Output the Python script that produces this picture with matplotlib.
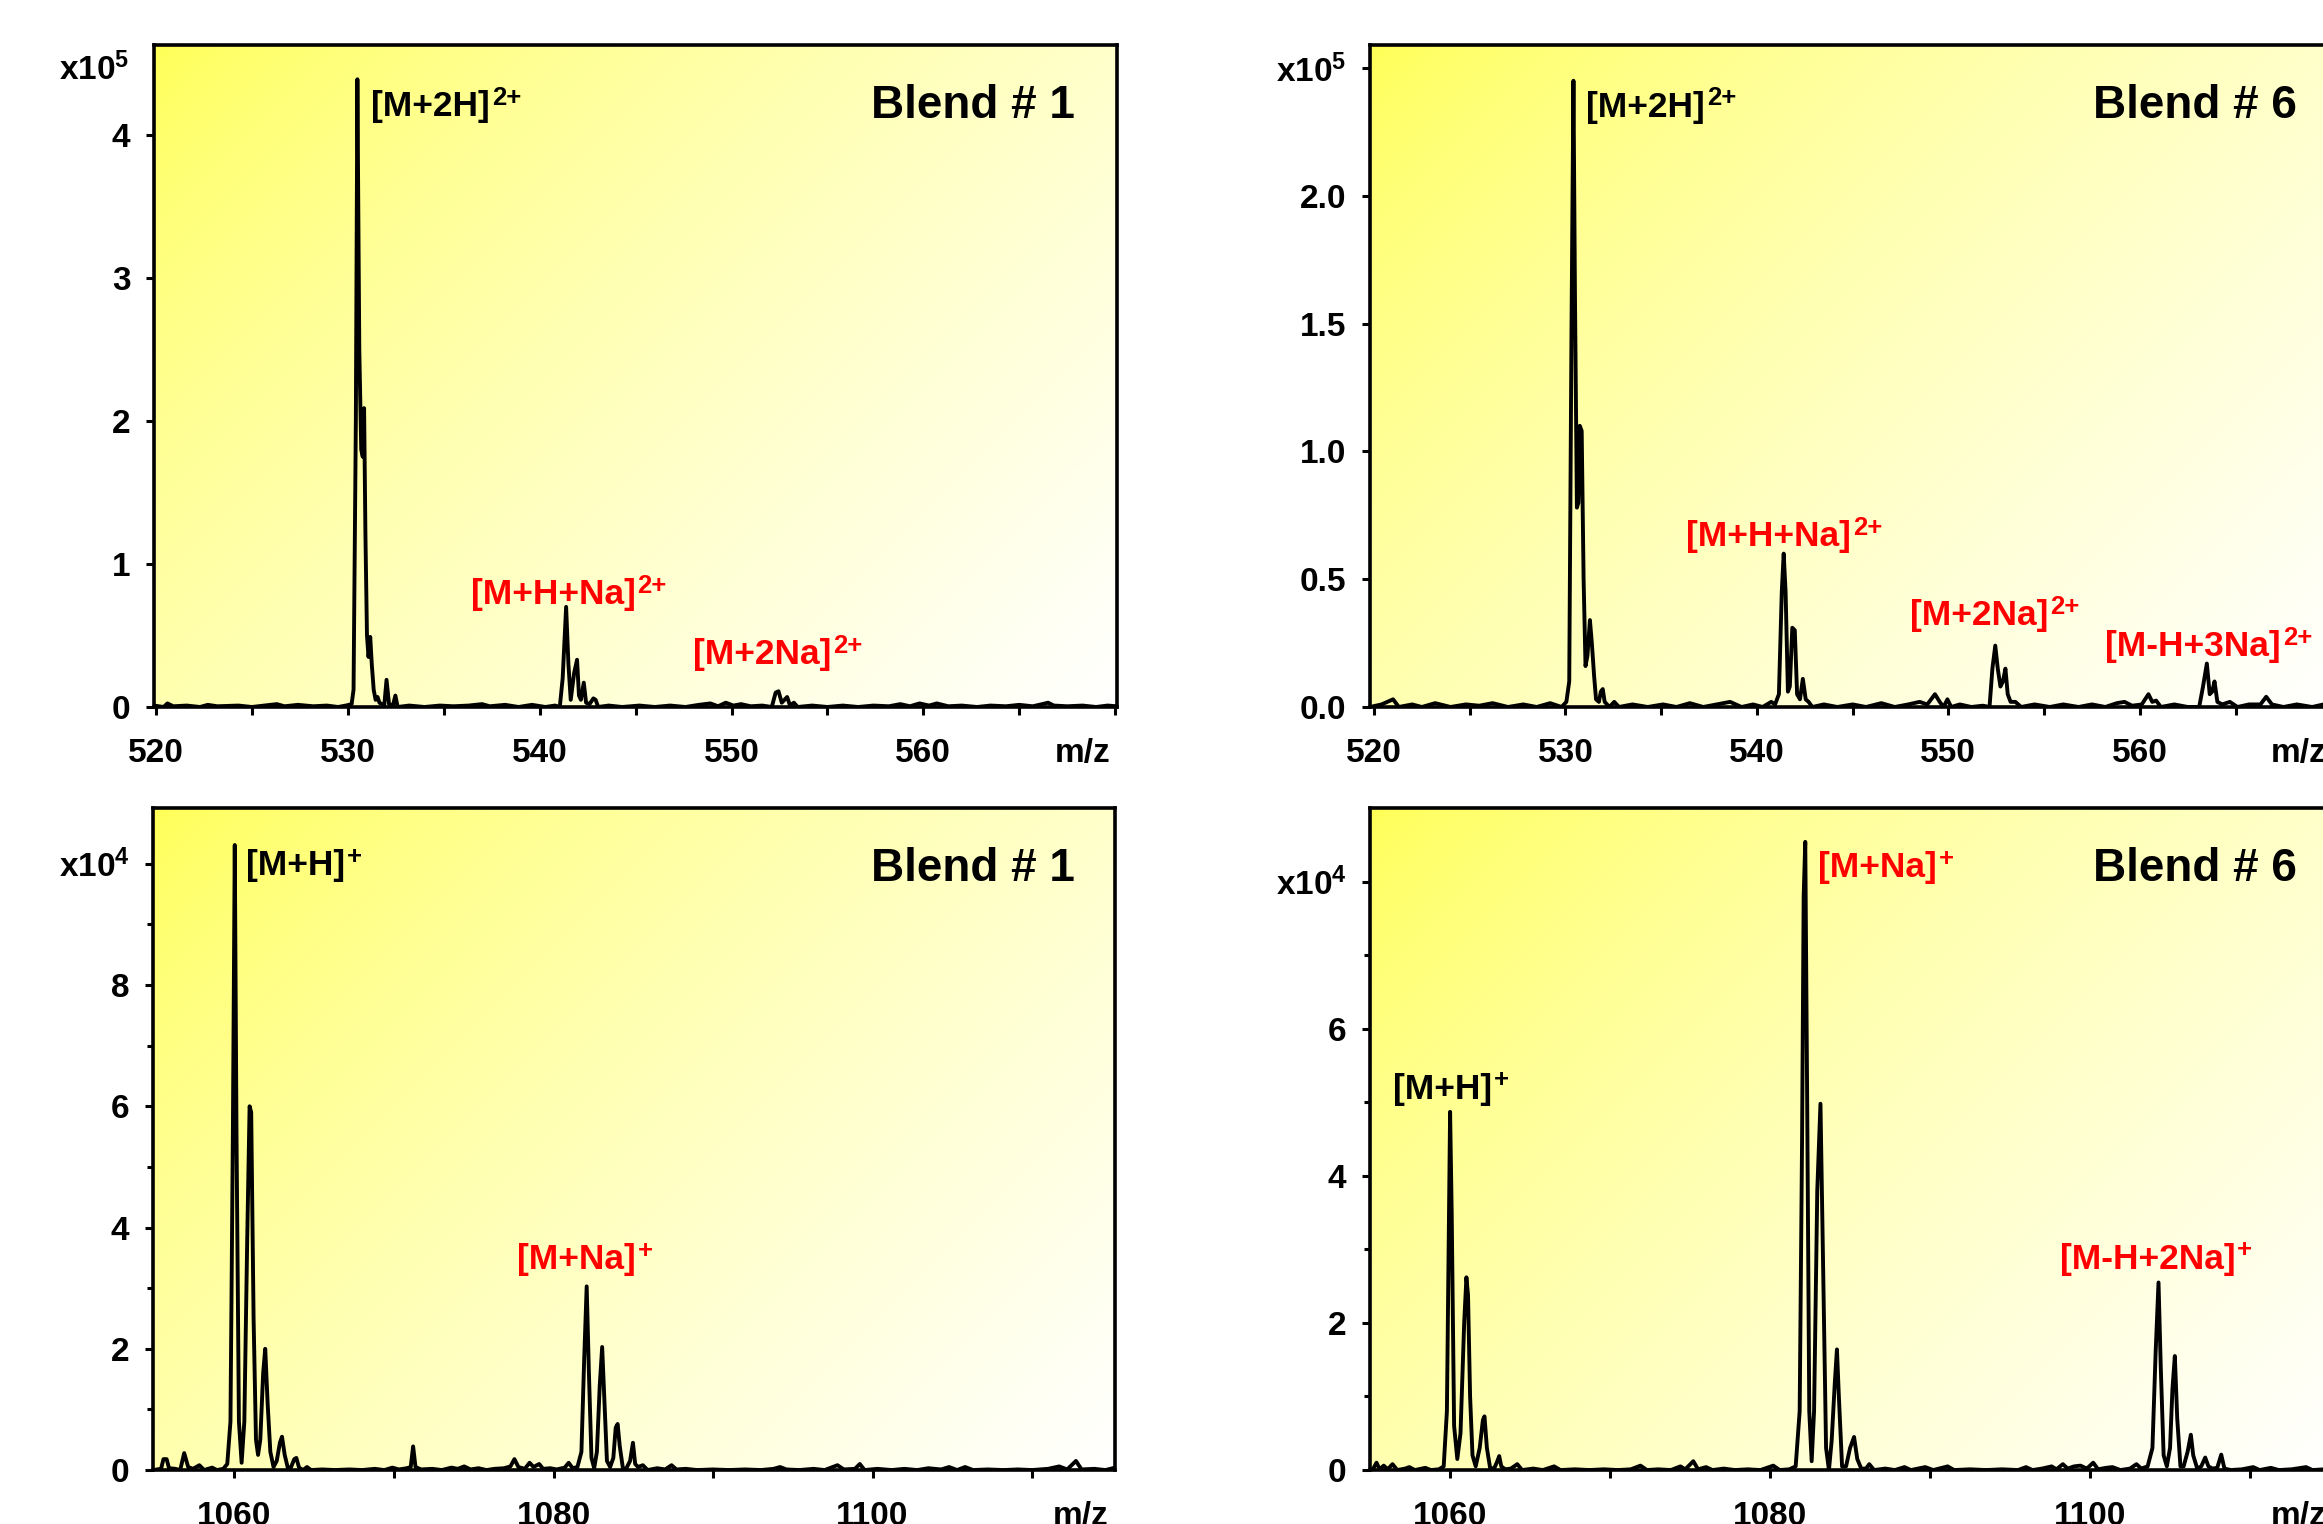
import numpy as np
import matplotlib
matplotlib.use("Agg")
import matplotlib.pyplot as plt
import matplotlib.transforms as mtransforms

plt.rcParams['font.family'] = ['Liberation Sans', 'DejaVu Sans']
plt.rcParams['font.weight'] = 'bold'
plt.rcParams['mathtext.fontset'] = 'custom'
plt.rcParams['mathtext.rm'] = 'Liberation Sans:bold'
plt.rcParams['mathtext.it'] = 'Liberation Sans:bold'
plt.rcParams['mathtext.bf'] = 'Liberation Sans:bold'
plt.rcParams['mathtext.default'] = 'rm'

# ---- spectra: (m/z, intensity) ----
# Blend 1, doubly charged region (x1e5)
blend1_z2 = [
    (519.9, 0.01), (520.4, 0.0), (520.6, 0.025), (520.9, 0.005), (521.6, 0.01), (522.3, 0.0),
    (522.7, 0.015), (523.2, 0.005), (524.3, 0.01), (525.0, 0.0), (526.3, 0.02), (526.7, 0.005),
    (527.4, 0.015), (528.2, 0.005), (528.9, 0.01), (529.5, 0.0), (529.9, 0.01),
    (530.2, 0.02), (530.3, 0.12), (530.42, 2.0), (530.5, 4.39), (530.6, 2.5), (530.7, 1.8),
    (530.78, 1.75), (530.85, 2.09), (530.92, 1.2), (531.0, 0.5), (531.08, 0.35), (531.17, 0.49),
    (531.25, 0.30), (531.35, 0.12), (531.45, 0.05), (531.55, 0.07), (531.65, 0.03), (531.9, 0.01),
    (532.02, 0.19), (532.15, 0.02), (532.35, 0.01), (532.48, 0.08), (532.6, 0.0),
    (533.2, 0.01), (534.0, 0.0), (534.8, 0.01), (535.5, 0.005), (536.3, 0.01), (537.0, 0.02),
    (537.4, 0.005), (538.2, 0.015), (538.9, 0.0), (539.6, 0.015), (540.3, 0.0), (540.8, 0.01),
    (541.05, 0.0), (541.2, 0.2), (541.38, 0.70), (541.5, 0.3), (541.62, 0.05), (541.8, 0.24),
    (541.95, 0.33), (542.05, 0.08), (542.15, 0.05), (542.3, 0.17), (542.42, 0.03), (542.6, 0.02),
    (542.8, 0.06), (542.92, 0.05), (543.05, 0.0),
    (543.6, 0.01), (544.3, 0.0), (545.2, 0.01), (546.0, 0.0), (546.8, 0.01), (547.6, 0.0),
    (548.3, 0.015), (548.9, 0.025), (549.3, 0.005), (549.7, 0.03), (550.1, 0.01), (550.5, 0.02),
    (551.0, 0.005), (551.6, 0.01),
    (552.1, 0.0), (552.3, 0.10), (552.45, 0.11), (552.62, 0.03), (552.9, 0.07), (553.05, 0.01),
    (553.25, 0.03), (553.45, 0.0),
    (554.2, 0.01), (555.0, 0.0), (555.8, 0.01), (556.6, 0.0), (557.4, 0.01), (558.2, 0.005),
    (558.8, 0.02), (559.3, 0.005), (559.8, 0.025), (560.3, 0.01), (560.7, 0.025), (561.3, 0.005),
    (562.0, 0.01), (562.8, 0.0), (563.5, 0.01), (564.3, 0.005), (565.0, 0.015), (565.7, 0.005),
    (566.2, 0.02), (566.5, 0.03), (566.8, 0.01), (567.5, 0.005), (568.3, 0.01), (569.0, 0.0),
    (569.6, 0.01), (570.1, 0.005),
]

# Blend 6, doubly charged region (x1e5)
blend6_z2 = [
    (519.8, 0.0), (520.4, 0.01), (521.0, 0.03), (521.3, 0.0), (522.0, 0.01), (522.5, 0.0),
    (523.2, 0.015), (524.0, 0.0), (524.8, 0.01), (525.5, 0.005), (526.2, 0.015), (527.0, 0.0),
    (527.8, 0.01), (528.5, 0.0), (529.2, 0.015), (529.8, 0.0),
    (530.05, 0.02), (530.2, 0.1), (530.32, 1.5), (530.42, 2.45), (530.5, 1.6), (530.6, 0.78),
    (530.68, 0.80), (530.75, 1.10), (530.85, 1.08), (530.95, 0.5), (531.05, 0.16), (531.15, 0.20),
    (531.28, 0.34), (531.38, 0.25), (531.5, 0.12), (531.6, 0.03), (531.75, 0.02), (531.85, 0.06),
    (531.95, 0.07), (532.05, 0.02), (532.3, 0.0), (532.55, 0.02), (532.8, 0.0),
    (533.5, 0.01), (534.3, 0.0), (535.1, 0.01), (535.8, 0.0), (536.5, 0.015), (537.2, 0.0),
    (537.9, 0.01), (538.6, 0.02), (539.2, 0.0), (539.8, 0.01), (540.3, 0.0), (540.75, 0.02),
    (540.95, 0.01),
    (541.15, 0.05), (541.3, 0.45), (541.4, 0.60), (541.5, 0.45), (541.62, 0.06), (541.72, 0.08),
    (541.85, 0.31), (541.98, 0.30), (542.1, 0.05), (542.25, 0.03), (542.4, 0.11), (542.55, 0.03),
    (542.7, 0.02), (542.9, 0.0),
    (543.5, 0.01), (544.2, 0.0), (545.0, 0.01), (545.7, 0.0), (546.5, 0.015), (547.2, 0.0),
    (547.9, 0.01), (548.5, 0.02), (548.9, 0.01), (549.3, 0.05), (549.55, 0.02), (549.75, 0.0),
    (549.95, 0.03), (550.15, 0.0), (550.6, 0.01), (551.2, 0.0), (551.8, 0.005),
    (552.15, 0.0), (552.3, 0.15), (552.45, 0.24), (552.58, 0.15), (552.72, 0.08), (552.85, 0.10),
    (552.98, 0.15), (553.1, 0.05), (553.25, 0.02), (553.5, 0.02), (553.8, 0.0),
    (554.5, 0.01), (555.3, 0.0), (556.0, 0.01), (556.8, 0.0), (557.5, 0.01), (558.2, 0.0),
    (558.8, 0.015), (559.2, 0.02), (559.6, 0.005), (560.1, 0.01), (560.45, 0.05), (560.65, 0.02),
    (560.85, 0.025), (561.1, 0.0), (561.8, 0.01), (562.5, 0.0), (563.1, 0.0), (563.3, 0.08),
    (563.5, 0.17), (563.65, 0.05), (563.78, 0.06), (563.9, 0.10), (564.05, 0.02), (564.3, 0.01),
    (564.7, 0.02), (565.1, 0.0), (565.7, 0.01), (566.3, 0.01), (566.6, 0.04), (566.9, 0.01),
    (567.5, 0.0), (568.2, 0.01), (569.0, 0.0), (569.6, 0.01), (570.1, 0.0),
]

# Blend 1, singly charged region (x1e4)
blend1_z1 = [
    (1054.9, 0.0), (1055.4, 0.02), (1055.55, 0.18), (1055.75, 0.18), (1055.9, 0.03), (1056.3, 0.02),
    (1056.6, 0.0), (1056.85, 0.28), (1057.1, 0.05), (1057.4, 0.02), (1057.8, 0.08), (1058.1, 0.0),
    (1058.6, 0.04), (1058.9, 0.0), (1059.3, 0.02),
    (1059.55, 0.1), (1059.75, 0.8), (1059.9, 5.5), (1060.02, 10.31), (1060.13, 5.5), (1060.28, 0.8),
    (1060.45, 0.12), (1060.62, 0.8), (1060.8, 3.8), (1060.95, 6.0), (1061.05, 5.9), (1061.2, 2.5),
    (1061.35, 0.5), (1061.48, 0.25), (1061.62, 0.5), (1061.8, 1.6), (1061.93, 2.0), (1062.08, 1.1),
    (1062.25, 0.3), (1062.45, 0.05), (1062.65, 0.15), (1062.85, 0.45), (1062.98, 0.55), (1063.15, 0.25),
    (1063.35, 0.03), (1063.55, 0.05), (1063.75, 0.18), (1063.88, 0.2), (1064.05, 0.04), (1064.3, 0.0),
    (1064.55, 0.05), (1064.8, 0.0),
    (1065.5, 0.01), (1066.3, 0.0), (1067.2, 0.01), (1068.0, 0.0), (1068.8, 0.02), (1069.4, 0.0),
    (1069.9, 0.04), (1070.3, 0.01), (1070.8, 0.03), (1071.05, 0.05), (1071.2, 0.39), (1071.35, 0.05),
    (1071.7, 0.01), (1072.4, 0.02), (1073.0, 0.0), (1073.6, 0.04), (1074.0, 0.02), (1074.4, 0.06),
    (1074.8, 0.01), (1075.3, 0.03), (1075.8, 0.0), (1076.3, 0.02), (1076.9, 0.03), (1077.3, 0.06),
    (1077.55, 0.18), (1077.8, 0.05), (1078.2, 0.02), (1078.5, 0.12), (1078.75, 0.05), (1079.1, 0.1),
    (1079.35, 0.02), (1079.8, 0.03), (1080.2, 0.01), (1080.7, 0.04), (1080.95, 0.12), (1081.2, 0.03),
    (1081.5, 0.05),
    (1081.75, 0.3), (1081.92, 1.8), (1082.08, 3.03), (1082.22, 1.6), (1082.38, 0.2), (1082.55, 0.03),
    (1082.72, 0.3), (1082.9, 1.4), (1083.05, 2.03), (1083.18, 1.2), (1083.35, 0.15), (1083.55, 0.05),
    (1083.75, 0.2), (1083.9, 0.7), (1084.02, 0.76), (1084.15, 0.4), (1084.35, 0.03), (1084.55, 0.02),
    (1084.8, 0.15), (1084.98, 0.45), (1085.12, 0.1), (1085.3, 0.05), (1085.6, 0.08), (1085.9, 0.0),
    (1086.5, 0.03), (1087.0, 0.01), (1087.4, 0.08), (1087.7, 0.01), (1088.3, 0.02), (1089.0, 0.0),
    (1090.0, 0.01), (1091.0, 0.0), (1092.0, 0.01), (1093.0, 0.0), (1093.8, 0.02), (1094.2, 0.05),
    (1094.6, 0.01), (1095.4, 0.0), (1096.3, 0.02), (1097.0, 0.0), (1097.8, 0.08), (1098.2, 0.01),
    (1098.9, 0.02), (1099.2, 0.1), (1099.5, 0.0), (1100.3, 0.02), (1101.2, 0.0), (1102.0, 0.02),
    (1102.8, 0.0), (1103.5, 0.03), (1104.3, 0.01), (1104.8, 0.05), (1105.3, 0.0), (1105.8, 0.05),
    (1106.3, 0.0), (1107.2, 0.01), (1108.2, 0.0), (1109.1, 0.01), (1110.0, 0.0), (1111.0, 0.02),
    (1111.7, 0.06), (1112.2, 0.01), (1112.75, 0.15), (1113.1, 0.01), (1113.9, 0.02), (1114.6, 0.0),
    (1115.2, 0.04),
]

# Blend 6, singly charged region (x1e4)
blend6_z1 = [
    (1054.9, 0.0), (1055.2, 0.02), (1055.4, 0.1), (1055.6, 0.01), (1055.85, 0.06), (1056.1, 0.01),
    (1056.4, 0.08), (1056.7, 0.0), (1057.2, 0.02), (1057.45, 0.04), (1057.8, 0.0), (1058.45, 0.03),
    (1058.8, 0.0), (1059.3, 0.01),
    (1059.6, 0.05), (1059.8, 0.8), (1059.93, 3.5), (1060.0, 4.87), (1060.1, 3.5), (1060.25, 0.6),
    (1060.45, 0.15), (1060.65, 0.5), (1060.88, 2.0), (1061.02, 2.62), (1061.12, 2.38), (1061.25, 1.0),
    (1061.4, 0.2), (1061.6, 0.05), (1061.85, 0.3), (1062.05, 0.68), (1062.15, 0.73), (1062.3, 0.3),
    (1062.5, 0.03), (1062.75, 0.02), (1062.95, 0.12), (1063.07, 0.19), (1063.2, 0.05), (1063.45, 0.01),
    (1063.8, 0.02), (1064.2, 0.08), (1064.5, 0.0),
    (1065.2, 0.02), (1065.8, 0.0), (1066.5, 0.05), (1066.9, 0.0), (1067.8, 0.01), (1068.7, 0.0),
    (1069.6, 0.01), (1070.5, 0.0), (1071.3, 0.01), (1071.9, 0.06), (1072.3, 0.0), (1073.0, 0.01),
    (1073.8, 0.0), (1074.4, 0.05), (1074.7, 0.01), (1075.2, 0.12), (1075.5, 0.01), (1076.0, 0.04),
    (1076.4, 0.0), (1077.1, 0.02), (1077.8, 0.0), (1078.6, 0.01), (1079.4, 0.0), (1080.2, 0.06),
    (1080.6, 0.0), (1081.2, 0.01), (1081.6, 0.05),
    (1081.85, 0.8), (1082.0, 4.5), (1082.1, 7.8), (1082.2, 8.54), (1082.32, 5.0), (1082.45, 0.8),
    (1082.6, 0.12), (1082.75, 0.8), (1082.95, 3.8), (1083.15, 4.98), (1083.3, 3.0), (1083.5, 0.3),
    (1083.68, 0.0), (1083.85, 0.4), (1084.05, 1.2), (1084.18, 1.64), (1084.3, 1.0), (1084.5, 0.05),
    (1084.75, 0.05), (1085.0, 0.3), (1085.25, 0.45), (1085.45, 0.15), (1085.7, 0.02), (1086.0, 0.02),
    (1086.2, 0.08), (1086.5, 0.0),
    (1087.2, 0.02), (1087.8, 0.0), (1088.4, 0.04), (1088.8, 0.0), (1089.7, 0.04), (1090.2, 0.0),
    (1091.1, 0.05), (1091.5, 0.0), (1092.5, 0.01), (1093.5, 0.0), (1094.5, 0.01), (1095.5, 0.0),
    (1096.0, 0.04), (1096.4, 0.0), (1097.0, 0.02), (1097.6, 0.05), (1097.9, 0.01), (1098.3, 0.08),
    (1098.6, 0.02), (1099.0, 0.05), (1099.4, 0.06), (1099.8, 0.02), (1100.2, 0.1), (1100.5, 0.01),
    (1101.0, 0.03), (1101.4, 0.04), (1101.9, 0.0), (1102.5, 0.02), (1102.9, 0.08), (1103.2, 0.02),
    (1103.6, 0.05),
    (1103.9, 0.3), (1104.1, 1.6), (1104.28, 2.55), (1104.42, 1.4), (1104.6, 0.2), (1104.8, 0.05),
    (1105.0, 0.3), (1105.15, 1.1), (1105.3, 1.55), (1105.45, 0.7), (1105.65, 0.05), (1105.85, 0.05),
    (1106.1, 0.25), (1106.3, 0.48), (1106.45, 0.2), (1106.7, 0.02), (1106.95, 0.05), (1107.2, 0.17),
    (1107.4, 0.05), (1107.65, 0.02), (1107.95, 0.03), (1108.2, 0.21), (1108.4, 0.02), (1108.8, 0.0),
    (1109.5, 0.01), (1110.2, 0.04), (1110.6, 0.0), (1111.3, 0.03), (1111.8, 0.0), (1112.6, 0.01),
    (1113.5, 0.04), (1113.9, 0.0), (1114.6, 0.01), (1115.2, 0.0),
]

# ---- ion labels (ion, charge, colour) ----
ions_tl = [("[M+2H]", "2+", "black"), ("[M+H+Na]", "2+", "red"), ("[M+2Na]", "2+", "red")]
ions_tr = [("[M+2H]", "2+", "black"), ("[M+H+Na]", "2+", "red"), ("[M+2Na]", "2+", "red"),
           ("[M-H+3Na]", "2+", "red")]
ions_bl = [("[M+H]", "+", "black"), ("[M+Na]", "+", "red")]
ions_br = [("[M+H]", "+", "black"), ("[M+Na]", "+", "red"), ("[M-H+2Na]", "+", "red")]

# where the labels sit (data coords, left/baseline)
pos_tl = [(531.2, 4.13), (536.4, 0.72), (548.0, 0.30)]
pos_tr = [(531.1, 2.31), (536.3, 0.63), (548.0, 0.32), (558.2, 0.20)]
pos_bl = [(1060.7, 9.82), (1077.7, 3.32)]
pos_br = [(1056.4, 5.05), (1083.0, 8.06), (1098.1, 2.74)]

fig = plt.figure(figsize=(23.23, 15.24), dpi=100)


def yellow_background(ax):
    u = np.linspace(0, 1, 300)[None, :]
    v = np.linspace(0, 1, 200)[:, None]
    t = (u * 963 + v * 662) / (963 + 662)
    img = np.ones((200, 300, 3))
    img[..., 2] = 0.33 + 0.67 * t ** 0.7
    ax.imshow(img, extent=[0, 1, 0, 1], transform=ax.transAxes, aspect='auto',
              origin='upper', zorder=0, interpolation='bilinear')


def draw_panel(rect, spectrum, xlim, xticks, xlabels, ylim, yticks, ylabels, yminor,
               ions, positions, blend, blend_x):
    ax = fig.add_axes(rect)
    yellow_background(ax)
    data = np.array(spectrum)
    ax.plot(data[:, 0], data[:, 1], color='black', lw=2.8, zorder=3)
    ax.set_xlim(*xlim)
    ax.set_ylim(*ylim)
    ax.set_xticks(xticks)
    ax.set_xticklabels(xlabels)
    ax.set_yticks(yticks)
    ax.set_yticklabels(ylabels)
    if yminor:
        ax.set_yticks(yminor, minor=True)
    ax.tick_params(which='major', direction='out', length=6, width=2.2, labelsize=24)
    ax.tick_params(which='minor', direction='out', length=4, width=2.2)
    ax.tick_params(axis='x', pad=16)
    ax.tick_params(axis='y', pad=11)
    for s in ax.spines.values():
        s.set_linewidth(2.6)
        s.set_zorder(4)
    for (ion, charge, col), (x, y) in zip(ions, positions):
        t = ax.text(x, y, ion, color=col, fontsize=25.5, fontweight='bold',
                    ha='left', va='baseline', zorder=5)
        # charge as a raised superscript right after the closing bracket
        ax.annotate(charge, xy=(1, 1), xycoords=t, xytext=(1.5, 3),
                    textcoords='offset points', color=col, fontsize=18.5,
                    fontweight='bold', ha='left', va='top', zorder=5)
    ax.text(blend_x, 0.89, blend, transform=ax.transAxes, fontsize=33,
            fontweight='bold', ha='right', va='baseline', zorder=5)
    ax.annotate("m/z", xy=(0.935, 0), xycoords='axes fraction',
                xytext=(0, -22), textcoords='offset points',
                ha='left', va='top', fontsize=24, fontweight='bold', annotation_clip=False)
    return ax


x_top = [520, 525, 530, 535, 540, 545, 550, 555, 560, 565, 570]
x_top_lab = ['520', '', '530', '', '540', '', '550', '', '560', '', '']
x_bot = [1060, 1070, 1080, 1090, 1100, 1110]
x_bot_lab = ['1060', '', '1080', '', '1100', '']

ax1 = draw_panel([0.0663, 0.5361, 0.4146, 0.4344], blend1_z2, (519.9, 570.1), x_top, x_top_lab,
                 (0, 4.63), [0, 1, 2, 3, 4], ['0', '1', '2', '3', '4'], None,
                 ions_tl, pos_tl, "Blend # 1", 0.956)
ax1.text(-0.026, 4.455, "x10$^{5}$", transform=mtransforms.blended_transform_factory(
    ax1.transAxes, ax1.transData), ha='right', va='center', fontsize=24, fontweight='bold')

draw_panel([0.5898, 0.5361, 0.4146, 0.4344], blend6_z2, (519.8, 570.1), x_top, x_top_lab,
           (0, 2.59), [0, 0.5, 1.0, 1.5, 2.0, 2.5], ['0.0', '0.5', '1.0', '1.5', '2.0', 'x10$^{5}$'],
           None, ions_tr, pos_tr, "Blend # 6", 0.962)

draw_panel([0.0659, 0.0354, 0.4141, 0.4344], blend1_z1, (1054.9, 1115.2), x_bot, x_bot_lab,
           (0, 10.92), [0, 2, 4, 6, 8, 10], ['0', '2', '4', '6', '8', 'x10$^{4}$'], [1, 3, 5, 7, 9],
           ions_bl, pos_bl, "Blend # 1", 0.958)

draw_panel([0.5898, 0.0354, 0.4146, 0.4344], blend6_z1, (1055.0, 1115.2), x_bot, x_bot_lab,
           (0, 9.0), [0, 2, 4, 6, 8], ['0', '2', '4', '6', 'x10$^{4}$'], [1, 3, 5, 7],
           ions_br, pos_br, "Blend # 6", 0.962)

fig.savefig("out.png", dpi=100)
